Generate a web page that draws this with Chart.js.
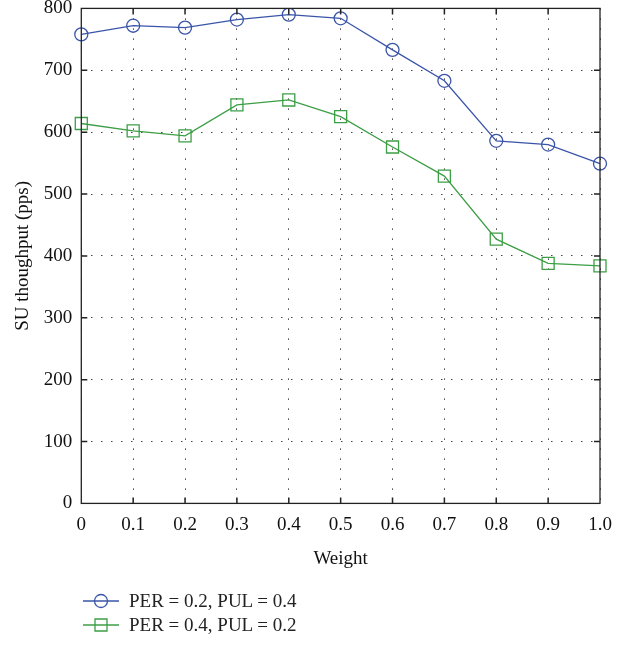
<!DOCTYPE html>
<html>
<head>
<meta charset="utf-8">
<script src="https://cdn.jsdelivr.net/npm/chart.js@4"></script>
<style>
	body { margin: 0; background: #fff; font-family: "Liberation Serif", serif; }
	#wrap { position: relative; width: 623px; height: 586px; margin-top: -12px; }
	#legend { position: absolute; left: 83px; top: 589px; font-size: 19px; color: #222; }
	#legend div { height: 24px; display: flex; align-items: center; }
	#legend canvas { margin-right: 10px; }
</style>
</head>
<body>
<div id="wrap"><canvas id="tpChart" width="623" height="586"></canvas></div>
<div id="legend"></div>
<script>
// 가중치별 SU 처리량
var weights = ["0", "0.1", "0.2", "0.3", "0.4", "0.5", "0.6", "0.7", "0.8", "0.9", "1.0"];
var perLow = [758, 772, 769, 782, 790, 784, 733, 683, 586, 580, 549];
var perHigh = [614, 602, 594, 644, 652, 625, 576, 529, 427, 388, 384];
var seriesNames = ["PER = 0.2, PUL = 0.4", "PER = 0.4, PUL = 0.2"];
var yTicks = [0, 100, 200, 300, 400, 500, 600, 700, 800];

var blue = "#3a55a8";
var green = "#3c9e45";
var txtFont = { family : "Liberation Serif", size : 19 };

// 테두리 + 안쪽 눈금
var framePlugin = {
	id : "frame",
	afterDraw : function(chart) {
		var ctx = chart.ctx;
		var a = chart.chartArea;
		var xs = chart.scales.x, ys = chart.scales.y;
		ctx.save();
		ctx.strokeStyle = "#222";
		ctx.lineWidth = 1.3;
		ctx.strokeRect(a.left, a.top, a.right - a.left, a.bottom - a.top);
		ctx.lineWidth = 1.5;
		ctx.beginPath();
		for (var i = 1; i < weights.length - 1; i++) {
			var px = xs.getPixelForValue(i);
			ctx.moveTo(px, a.bottom); ctx.lineTo(px, a.bottom - 6);
			ctx.moveTo(px, a.top); ctx.lineTo(px, a.top + 6);
		}
		for (var j = 1; j < yTicks.length - 1; j++) {
			var py = ys.getPixelForValue(yTicks[j]);
			ctx.moveTo(a.left, py); ctx.lineTo(a.left + 6, py);
			ctx.moveTo(a.right, py); ctx.lineTo(a.right - 6, py);
		}
		ctx.stroke();
		ctx.restore();
	}
};

var ctx = document.getElementById("tpChart");
var myLineChart = new Chart(ctx, {
	type : "line",
	data : {
		labels : weights,
		datasets : [ {
			label : seriesNames[0],
			data : perLow,
			borderColor : blue,
			backgroundColor : "transparent",
			borderWidth : 1.3,
			pointStyle : "circle",
			pointRadius : 6.5,
			pointBorderWidth : 1.3,
			pointBackgroundColor : "transparent"
		}, {
			label : seriesNames[1],
			data : perHigh,
			borderColor : green,
			backgroundColor : "transparent",
			borderWidth : 1.3,
			pointStyle : "rect",
			pointRadius : 8.5,
			pointBorderWidth : 1.3,
			pointBackgroundColor : "transparent"
		} ]
	},
	options : {
		responsive : false,
		animation : false,
		layout : { padding : { left : 12, right : 23, top : 0, bottom : 0 } },
		plugins : {
			legend : { display : false },
			tooltip : { enabled : false }
		},
		scales : {
			x : {
				type : "category",
				offset : false,
				grid : { color : "#444", drawTicks : false, lineWidth : 1 },
				border : { display : false, dash : [1.5, 8.5] },
				ticks : { color : "#111", font : txtFont, padding : 10, maxRotation : 0 },
				title : { display : true, text : "Weight", color : "#111", font : txtFont, padding : { top : 1 } }
			},
			y : {
				min : 0,
				max : 800,
				afterBuildTicks : function(scale) {
					scale.ticks = yTicks.map(function(v) { return { value : v }; });
				},
				grid : { color : "#444", drawTicks : false, lineWidth : 1 },
				border : { display : false, dash : [1.5, 8.5] },
				ticks : { color : "#111", font : txtFont, padding : 9 },
				title : { display : true, text : "SU thoughput (pps)", color : "#111", font : txtFont, padding : { top : 0, bottom : 0 } }
			}
		}
	},
	plugins : [ framePlugin ]
});

// 범례 (선 + 마커)
function legendIcon(color, shape) {
	var c = document.createElement("canvas");
	c.width = 36; c.height = 18;
	var g = c.getContext("2d");
	g.strokeStyle = color;
	g.lineWidth = 1.3;
	g.beginPath(); g.moveTo(0, 9); g.lineTo(36, 9); g.stroke();
	g.beginPath();
	if (shape === "circle") g.arc(18, 9, 6.5, 0, Math.PI * 2);
	else g.rect(12, 3, 12, 12);
	g.stroke();
	return c;
}
var legend = document.getElementById("legend");
[[blue, "circle"], [green, "rect"]].forEach(function(s, i) {
	var row = document.createElement("div");
	row.appendChild(legendIcon(s[0], s[1]));
	row.appendChild(document.createTextNode(seriesNames[i]));
	legend.appendChild(row);
});
</script>
</body>
</html>
